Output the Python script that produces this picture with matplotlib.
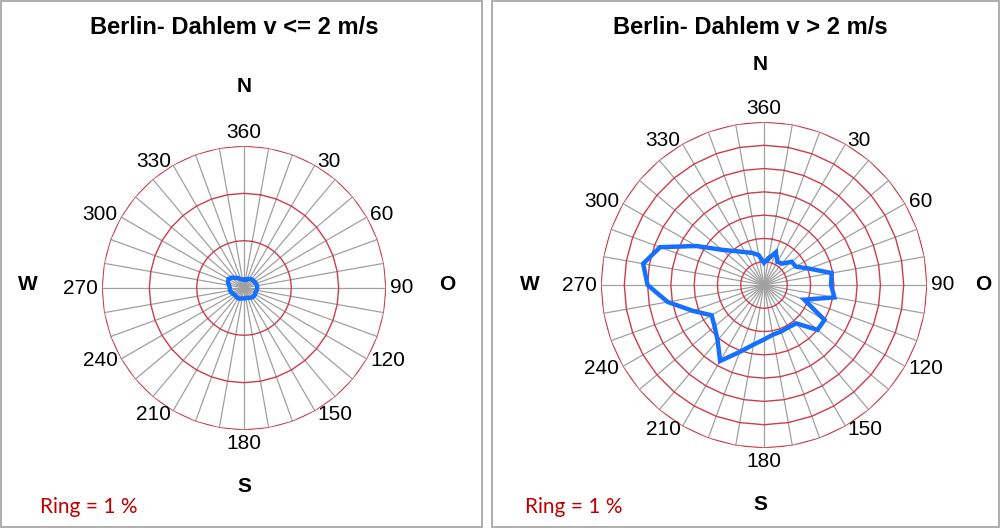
import numpy as np
import matplotlib
matplotlib.use("Agg")
import matplotlib.pyplot as plt
from matplotlib.patches import Rectangle

# DATA (wind direction frequency in %, directions 10..360 deg)
directions = list(range(10, 361, 10))
tick_angles = [30, 60, 90, 120, 150, 180, 210, 240, 270, 300, 330, 360]
titles = ["Berlin- Dahlem v <= 2 m/s", "Berlin- Dahlem v > 2 m/s"]
ring_note = "Ring = 1 %"

freq_low = [0.18, 0.20, 0.22, 0.24, 0.25, 0.26, 0.27, 0.28, 0.28, 0.27,
            0.26, 0.27, 0.27, 0.26, 0.24, 0.22, 0.22, 0.22, 0.22, 0.24,
            0.25, 0.25, 0.24, 0.26, 0.28, 0.30, 0.30, 0.32, 0.36, 0.38,
            0.34, 0.28, 0.24, 0.20, 0.18, 0.18]
freq_high = [1.16, 1.50, 1.15, 1.20, 1.55, 1.58, 2.06, 2.95, 2.88, 3.07,
             1.84, 3.00, 3.00, 2.15, 2.10, 2.13, 2.17, 2.34, 2.60, 3.06,
             3.77, 3.10, 2.77, 2.60, 3.25, 4.20, 5.00, 5.27, 4.75, 3.35,
             2.35, 1.90, 1.63, 1.47, 1.30, 0.95]

RING_COLOR = "#cc3d4a"
SPOKE_COLOR = "#a0a0a0"
LINE_COLOR = "#1670ff"
FONT = "Liberation Sans"


def draw_rose(ax, values, n_rings):
    """DRAW ONE EXCEL STYLE RADAR ROSE"""
    ax.set_theta_zero_location("N")
    ax.set_theta_direction(-1)
    ax.grid(False)
    ax.set_xticks([])
    ax.set_yticks([])
    ax.spines["polar"].set_visible(False)
    ax.set_ylim(0, n_rings)

    theta = np.deg2rad(directions + [directions[0]])

    # spokes every 10 degrees
    for d in directions:
        t = np.deg2rad(d)
        ax.plot([t, t], [0, n_rings], color=SPOKE_COLOR, lw=0.9, zorder=1)

    # polygonal rings, one per percent
    for r in range(1, n_rings + 1):
        ax.plot(theta, [r] * len(theta), color=RING_COLOR, lw=1.0, zorder=2)

    # data line
    vals = list(values) + [values[0]]
    ax.plot(theta, vals, color=LINE_COLOR, lw=3.2, zorder=3,
            solid_joinstyle="miter")

    # angle labels, anchored at the end of each axis like excel does
    for a in tick_angles:
        s, c = np.sin(np.deg2rad(a)), np.cos(np.deg2rad(a))
        ha = "left" if s > 0.1 else ("right" if s < -0.1 else "center")
        va = "center"
        if abs(s) < 0.1:
            va = "bottom" if c > 0 else "top"
        ax.annotate(str(a), (np.deg2rad(a), n_rings),
                    xytext=(4 * s, 4 * c), textcoords="offset pixels",
                    ha=ha, va=va, fontsize=15, family=FONT,
                    annotation_clip=False)


fig = plt.figure(figsize=(10, 5.3), dpi=100)

# AXES PLACED BY PIXEL CENTER AND RADIUS
W, H = 1000, 530
panels = [
    dict(cx=244, cy=288, rad=142, rings=3, values=freq_low),
    dict(cx=764, cy=285, rad=163, rings=7, values=freq_high),
]
for p in panels:
    ax = fig.add_axes([(p["cx"] - p["rad"]) / W,
                       (H - p["cy"] - p["rad"]) / H,
                       2 * p["rad"] / W, 2 * p["rad"] / H],
                      projection="polar")
    draw_rose(ax, p["values"], p["rings"])

# TITLES
fig.text(234 / W, 1 - 28 / H, titles[0], ha="center", va="center",
         fontsize=17, fontweight="bold", family=FONT)
fig.text(750 / W, 1 - 27 / H, titles[1], ha="center", va="center",
         fontsize=17, fontweight="bold", family=FONT)

# COMPASS LETTERS
compass = [
    ("N", 244, 87), ("S", 244, 487), ("W", 28, 285), ("O", 447, 285),
    ("N", 760, 65), ("S", 760, 505), ("W", 530, 285), ("O", 983, 285),
]
for txt, x, y in compass:
    fig.text(x / W, 1 - y / H, txt, ha="center", va="center",
             fontsize=15, fontweight="bold", family=FONT)

# RING NOTES
fig.text(40 / W, 1 - 507 / H, ring_note, ha="left", va="center",
         fontsize=15, color="#c00000", family="Lato")
fig.text(525 / W, 1 - 507 / H, ring_note, ha="left", va="center",
         fontsize=15, color="#c00000", family="Lato")

# PANEL FRAMES
fig.add_artist(Rectangle((0.5 / W, 3 / H), 481 / W, 526 / H,
                         transform=fig.transFigure, fill=False,
                         ec="#a0a0a0", lw=1.2))
fig.add_artist(Rectangle((492 / W, 3 / H), 507 / W, 526 / H,
                         transform=fig.transFigure, fill=False,
                         ec="#a0a0a0", lw=1.2))

fig.savefig("out.png", dpi=100)
